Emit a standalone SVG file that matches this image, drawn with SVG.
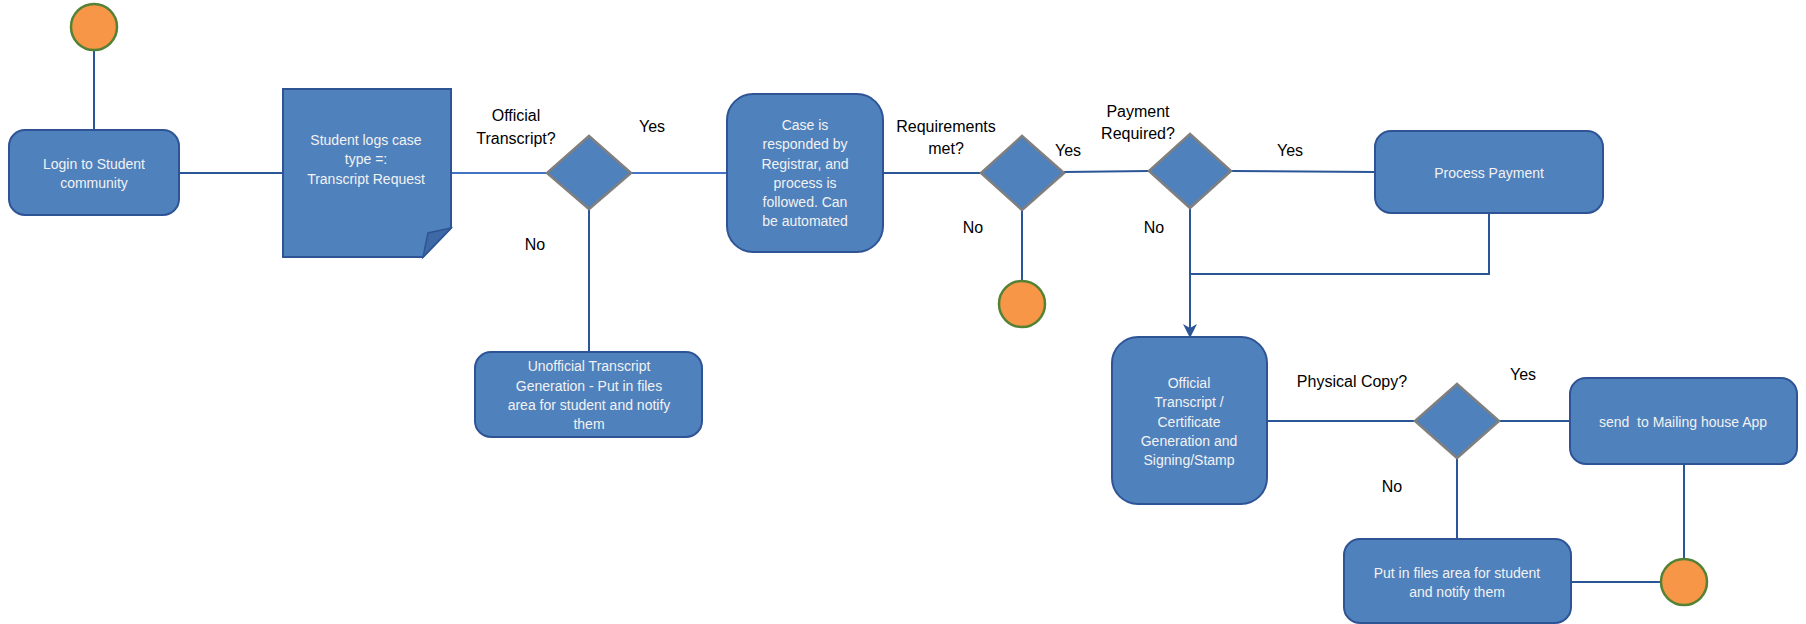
<svg xmlns="http://www.w3.org/2000/svg" width="1806" height="624" viewBox="0 0 1806 624">
<style>
.box{fill:#4f81bd;stroke:#2f5496;stroke-width:2}
.dia{fill:#4f81bd;stroke:#7f7f7f;stroke-width:2.5}
.term{fill:#f79646;stroke:#548235;stroke-width:2.5}
.bt{font-family:"Liberation Sans",Arial,sans-serif;font-size:14px;fill:#f2f2f2;text-anchor:middle}
.lb{font-family:"Liberation Sans",Arial,sans-serif;font-size:16px;fill:#000;text-anchor:middle}
.c{fill:none;stroke:#2a5597;stroke-width:2}
.cl{fill:none;stroke:#4472c4;stroke-width:2}
</style>
<defs>
<marker id="arr" viewBox="0 0 14 14" refX="13" refY="7" markerWidth="14" markerHeight="14" markerUnits="userSpaceOnUse" orient="auto">
<path d="M0,0 L14,7 L0,14 L4,7 Z" fill="#2a5597"/>
</marker>
</defs>
<rect width="1806" height="624" fill="#fff"/>
<g id="connectors">
<line class="c" x1="94" y1="49" x2="94" y2="130"/>
<line class="c" x1="179" y1="173" x2="283" y2="173"/>
<line class="cl" x1="451" y1="173" x2="547" y2="173"/>
<line class="cl" x1="631" y1="173" x2="727" y2="173"/>
<line class="c" x1="589" y1="209" x2="589" y2="352"/>
<line class="c" x1="883" y1="173" x2="981" y2="173"/>
<line class="c" x1="1022" y1="210" x2="1022" y2="281"/>
<line class="c" x1="1064" y1="172" x2="1149" y2="171"/>
<line class="c" x1="1231" y1="171" x2="1375" y2="172"/>
<polyline class="c" points="1489,213 1489,274 1190,274"/>
<line class="c" x1="1190" y1="208" x2="1190" y2="337" stroke-width="2.5" marker-end="url(#arr)"/>
<line class="c" x1="1267" y1="421" x2="1415" y2="421"/>
<line class="c" x1="1499" y1="421" x2="1570" y2="421"/>
<line class="c" x1="1457" y1="458" x2="1457" y2="539"/>
<line class="c" x1="1684" y1="464" x2="1684" y2="559"/>
<line class="c" x1="1571" y1="582" x2="1661" y2="582"/>
</g>
<g id="start">
<circle class="term" cx="94" cy="27" r="23"/>
</g>
<g id="login">
<rect class="box" x="9" y="130" width="170" height="85" rx="16"/>
<text class="bt" x="94" y="169">Login to Student</text>
<text class="bt" x="94" y="188">community</text>
</g>
<g id="request">
<polygon class="box" points="283,89 451,89 451,228 423,257 283,257"/>
<polygon points="423,257 428,233 451,228" fill="#3d6aa6" stroke="#2f5496" stroke-width="1.5"/>
<text class="bt" x="366" y="145">Student logs case</text>
<text class="bt" x="366" y="164">type =:</text>
<text class="bt" x="366" y="184">Transcript Request</text>
</g>
<g id="dec-official">
<polygon class="dia" points="589,136 631,173 589,209 547,173"/>
<text class="lb" x="516" y="121">Official</text>
<text class="lb" x="516" y="144">Transcript?</text>
<text class="lb" x="652" y="132">Yes</text>
<text class="lb" x="535" y="250">No</text>
</g>
<g id="unofficial">
<rect class="box" x="475" y="352" width="227" height="85" rx="16"/>
<text class="bt" x="589" y="371">Unofficial Transcript</text>
<text class="bt" x="589" y="391">Generation - Put in files</text>
<text class="bt" x="589" y="410">area for student and notify</text>
<text class="bt" x="589" y="429">them</text>
</g>
<g id="case">
<rect class="box" x="727" y="94" width="156" height="158" rx="26"/>
<text class="bt" x="805" y="130">Case is</text>
<text class="bt" x="805" y="149">responded by</text>
<text class="bt" x="805" y="169">Registrar, and</text>
<text class="bt" x="805" y="188">process is</text>
<text class="bt" x="805" y="207">followed. Can</text>
<text class="bt" x="805" y="226">be automated</text>
</g>
<g id="dec-req">
<polygon class="dia" points="1022,136 1064,173 1022,210 981,173"/>
<text class="lb" x="946" y="132">Requirements</text>
<text class="lb" x="946" y="154">met?</text>
<text class="lb" x="1068" y="156">Yes</text>
<text class="lb" x="973" y="233">No</text>
</g>
<g id="end1">
<circle class="term" cx="1022" cy="304" r="23"/>
</g>
<g id="dec-pay">
<polygon class="dia" points="1190,134 1231,171 1190,208 1149,171"/>
<text class="lb" x="1138" y="117">Payment</text>
<text class="lb" x="1138" y="139">Required?</text>
<text class="lb" x="1290" y="156">Yes</text>
<text class="lb" x="1154" y="233">No</text>
</g>
<g id="payment">
<rect class="box" x="1375" y="131" width="228" height="82" rx="16"/>
<text class="bt" x="1489" y="178">Process Payment</text>
</g>
<g id="official">
<rect class="box" x="1112" y="337" width="155" height="167" rx="26"/>
<text class="bt" x="1189" y="388">Official</text>
<text class="bt" x="1189" y="407">Transcript /</text>
<text class="bt" x="1189" y="427">Certificate</text>
<text class="bt" x="1189" y="446">Generation and</text>
<text class="bt" x="1189" y="465">Signing/Stamp</text>
</g>
<g id="dec-physical">
<polygon class="dia" points="1457,384 1499,421 1457,458 1415,421"/>
<text class="lb" x="1352" y="387">Physical Copy?</text>
<text class="lb" x="1523" y="380">Yes</text>
<text class="lb" x="1392" y="492">No</text>
</g>
<g id="mailing">
<rect class="box" x="1570" y="378" width="227" height="86" rx="16"/>
<text class="bt" x="1683" y="427" xml:space="preserve">send  to Mailing house App</text>
</g>
<g id="files">
<rect class="box" x="1344" y="539" width="227" height="84" rx="16"/>
<text class="bt" x="1457" y="578">Put in files area for student</text>
<text class="bt" x="1457" y="597">and notify them</text>
</g>
<g id="end2">
<circle class="term" cx="1684" cy="582" r="23"/>
</g>
</svg>
